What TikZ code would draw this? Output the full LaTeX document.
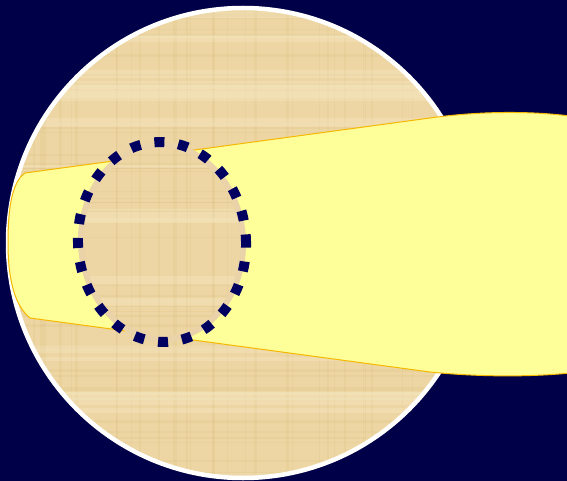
\documentclass[tikz,border=0pt]{standalone}
\definecolor{navybg}{HTML}{000048}
\definecolor{papyrus}{HTML}{EDD6A3}
\definecolor{papdark}{HTML}{C9A868}
\definecolor{paplight}{HTML}{F8EBC8}
\definecolor{ringfill}{HTML}{EBD3A9}
\definecolor{beam}{HTML}{FFFF99}
\definecolor{beamedge}{HTML}{F5B800}
\definecolor{dotnavy}{HTML}{000060}
\tikzset{
  beamshape/.style={fill=beam, draw=beamedge, line width=1},
  rimline/.style={draw=white, line width=4.5},
  focusring/.style={draw=dotnavy, line width=10, dash pattern=on 10 off 14},
  texline/.style={line width=#1, draw=papdark, opacity=0.10},
  texlight/.style={line width=#1, draw=paplight, opacity=0.30}
}
\newcommand{\papertexture}{%
  \pgfmathsetseed{7}%
  \foreach \i in {1,...,45}{%
    \pgfmathsetmacro{\pa}{rnd*481}%
    \pgfmathsetmacro{\pb}{0.5+rnd*2}%
    \draw[texline=\pb] (0,\pa) -- (567,\pa);
  }%
  \foreach \i in {1,...,45}{%
    \pgfmathsetmacro{\pa}{rnd*567}%
    \pgfmathsetmacro{\pb}{0.5+rnd*2}%
    \draw[texline=\pb] (\pa,0) -- (\pa,481);
  }%
  \foreach \i in {1,...,25}{%
    \pgfmathsetmacro{\pa}{rnd*481}%
    \pgfmathsetmacro{\pb}{2+rnd*6}%
    \draw[texlight=\pb] (0,\pa) -- (567,\pa);
  }%
}
\begin{document}
\begin{tikzpicture}[x=1pt,y=-1pt]
\useasboundingbox (0,0) rectangle (567,481);
\fill[navybg] (0,0) rectangle (567,481);
% papyrus disc
\fill[papyrus] (243,243) circle (235);
\begin{scope}
  \clip (243,243) circle (235);
  \papertexture
\end{scope}
\draw[rimline] (243,243) circle (235);
% beam
\path[beamshape] (25,173) -- (430,118)
  .. controls (480,111) and (530,111) .. (570,116)
  -- (570,373)
  .. controls (530,377) and (480,377) .. (430,372)
  -- (30,318)
  .. controls (15,306) and (8,280) .. (8,243)
  .. controls (8,208) and (12,182) .. (25,173) -- cycle;
% focus ellipse showing texture
\fill[ringfill, rotate around={3:(162,242)}] (162,242) ellipse (84 and 100);
\begin{scope}
  \clip[rotate around={3:(162,242)}] (162,242) ellipse (78 and 94);
  \fill[papyrus] (0,0) rectangle (567,481);
  \papertexture
\end{scope}
\draw[focusring, rotate around={3:(162,242)}] (162,242) ellipse (84 and 100);
\end{tikzpicture}
\end{document}
